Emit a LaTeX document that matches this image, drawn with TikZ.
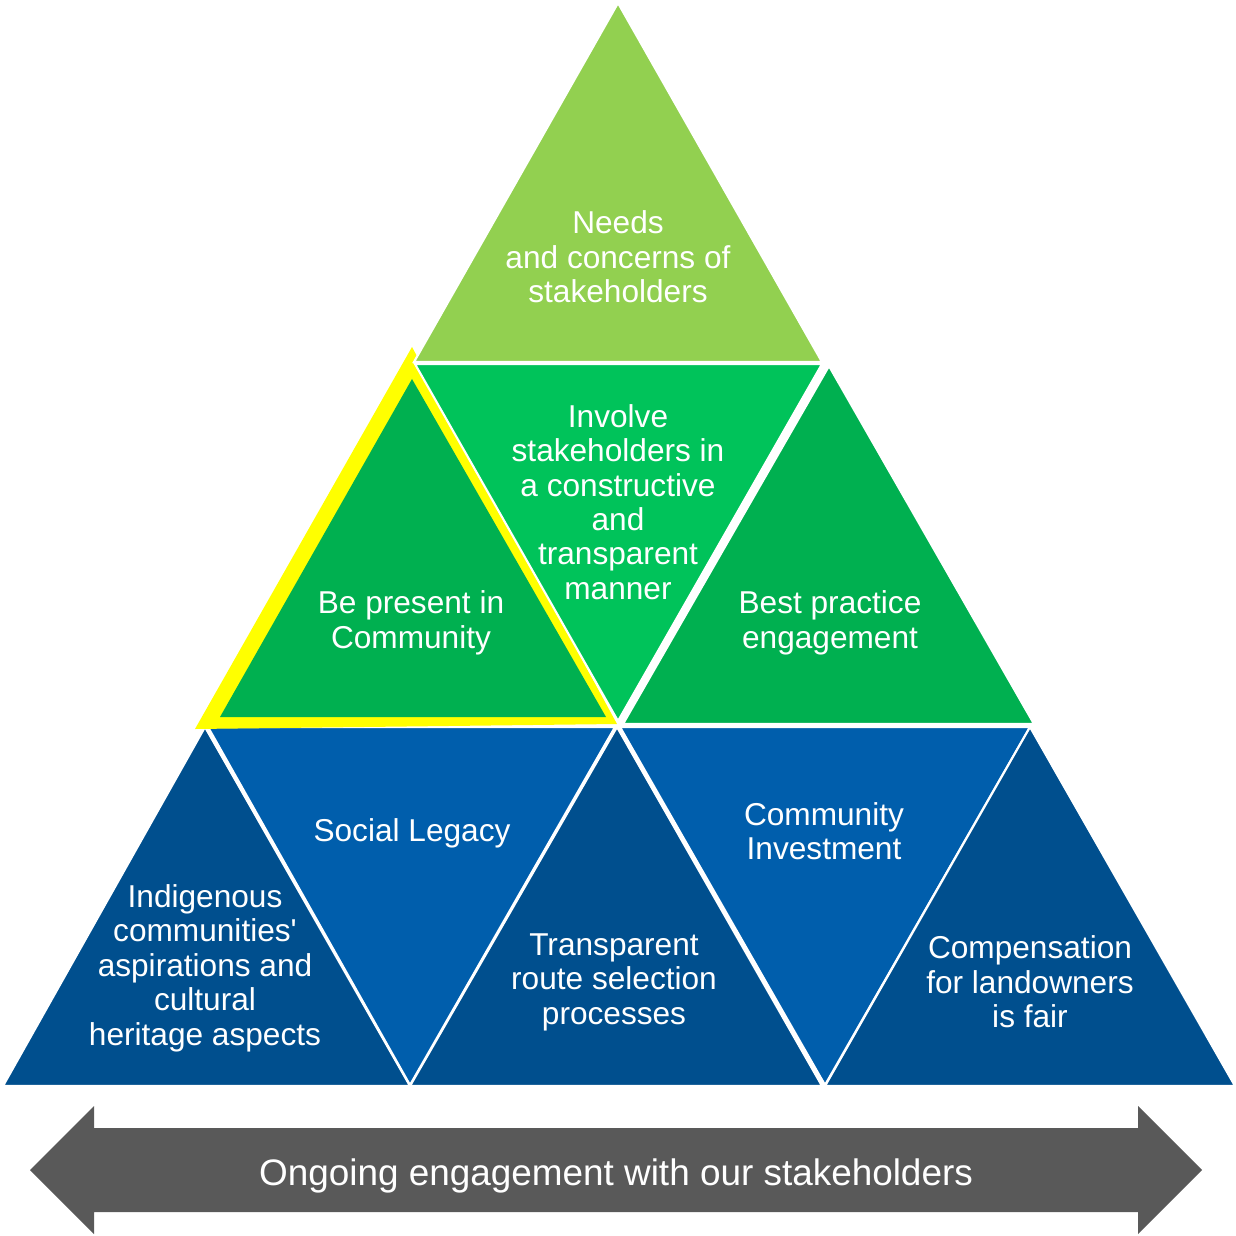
\documentclass[tikz,border=0pt]{standalone}
\usepackage{fontspec}
\setmainfont{Liberation Sans}
\usepackage{xcolor}
\definecolor{needs}{RGB}{146,208,80}
\definecolor{present}{RGB}{0,176,80}
\definecolor{involve}{RGB}{0,195,90}
\definecolor{legacy}{RGB}{0,94,172}
\definecolor{heritage}{RGB}{0,79,142}
\definecolor{marker}{RGB}{255,255,0}
\definecolor{ongoing}{RGB}{89,89,89}
\tikzstyle{tri}=[draw=white, line width=1.2pt, line join=miter]
\tikzset{tritext/.style={text=white, align=center, inner sep=0pt, font=\fontsize{18}{19.6}\selectfont}}
\tikzset{bigtext/.style={text=white, inner sep=0pt, font=\fontsize{21}{24}\selectfont}}

\begin{document}
\begin{tikzpicture}[x=0.02cm, y=-0.02cm]
  \useasboundingbox (0,0) rectangle (1235,1236);

  %% Bottom row
  \filldraw[tri, fill=heritage] (205,727) -- (3,1086) -- (410,1086) -- cycle;
  \filldraw[tri, fill=legacy] (208,727) -- (615,727) -- (410,1085) -- cycle;
  \filldraw[tri, fill=heritage] (617,727) -- (410,1086) -- (822,1086) -- cycle;
  \filldraw[tri, fill=legacy] (620,727) -- (1030,727) -- (825,1085) -- cycle;
  \filldraw[tri, fill=heritage] (1030,727) -- (825,1086) -- (1235,1086) -- cycle;

  %% Middle row
  \fill[marker] (412,347) -- (195,729) -- (617,724) -- cycle;
  \filldraw[tri, fill=involve] (415,364) -- (822,364) -- (618,721) -- cycle;
  \fill[present] (412,379) -- (220,717) -- (606,717) -- cycle;
  \filldraw[tri, fill=present] (829,366) -- (623,724) -- (1034,724) -- cycle;

  %% Top
  \filldraw[tri, fill=needs] (618,3) -- (414,362) -- (822,362) -- cycle;

  %% Labels
  \draw (618,257) node[tritext] (needs) {Needs\\and concerns of\\stakeholders};
  \draw (618,502) node[tritext] (involve) {Involve\\stakeholders in\\a constructive\\and\\transparent\\manner};
  \draw (411,623) node[tritext] (present) {Be present in\\Community};
  \draw (830,623) node[tritext] (practice) {Best practice\\engagement};
  \draw (412,833) node[tritext] (legacy) {Social Legacy};
  \draw (824,831) node[tritext] (investment) {Community\\Investment};
  \draw (205,968) node[tritext] (heritage) {Indigenous\\communities\textquotesingle\\aspirations and\\cultural\\heritage aspects};
  \draw (614,982) node[tritext] (route) {Transparent\\route selection\\processes};
  \draw (1030,982) node[tritext] (compensation) {Compensation\\for landowners\\is fair};

  %% Engagement arrow
  \fill[ongoing] (30,1170) -- (94,1106) -- (94,1128) -- (1138,1128) -- (1138,1106) -- (1202,1170)
    -- (1138,1234) -- (1138,1212) -- (94,1212) -- (94,1234) -- cycle;
  \draw (616,1176) node[bigtext] (ongoing) {Ongoing engagement with our stakeholders};
\end{tikzpicture}
\end{document}
